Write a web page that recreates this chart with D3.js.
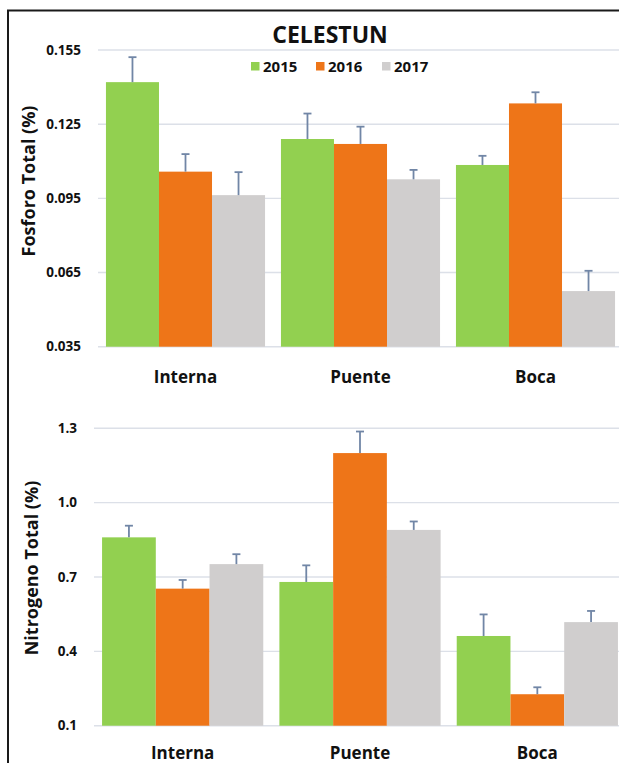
<!DOCTYPE html>
<html>
<head>
<meta charset="utf-8">
<script src="https://cdn.jsdelivr.net/npm/d3@7/dist/d3.min.js"></script>
<style>
  html, body { margin: 0; padding: 0; background: #fff; }
  svg { display: block; font-family: "Open Sans", "Noto Sans", sans-serif; }
</style>
</head>
<body>
<svg id="chart" width="619" height="763"></svg>
<script>
// Sampling sites and years
const sites = ["Interna", "Puente", "Boca"];
const years = ["2015", "2016", "2017"];
const yearColors = ["#92D050", "#EE7518", "#D0CECE"];

// Fosforo total (%) by year, one entry per site
const fosforo2015 = [0.142, 0.119, 0.1085];
const fosforo2016 = [0.1058, 0.117, 0.1334];
const fosforo2017 = [0.0963, 0.1027, 0.0575];
const fosforoErr2015 = [0.0101, 0.0103, 0.0037];
const fosforoErr2016 = [0.0071, 0.007, 0.0045];
const fosforoErr2017 = [0.0093, 0.0038, 0.0082];
const fosforoTicks = ["0.035", "0.065", "0.095", "0.125", "0.155"];

// Nitrogeno total (%) by year, one entry per site
const nitrogeno2015 = [0.86, 0.68, 0.462];
const nitrogeno2016 = [0.653, 1.2, 0.227];
const nitrogeno2017 = [0.752, 0.89, 0.518];
const nitrogenoErr2015 = [0.047, 0.067, 0.087];
const nitrogenoErr2016 = [0.035, 0.087, 0.028];
const nitrogenoErr2017 = [0.04, 0.034, 0.045];
const nitrogenoTicks = ["0.1", "0.4", "0.7", "1.0", "1.3"];

const svg = d3.select("#chart");

// Outer frame
svg.append("rect")
  .attr("x", 8).attr("y", 10.5)
  .attr("width", 640).attr("height", 780)
  .attr("fill", "none").attr("stroke", "#1a1a1a").attr("stroke-width", 2);

function drawPanel(opts) {
  const { values, errors, ticks, top, bottom, left, right, title, titlePos, labelY } = opts;
  const tickVals = ticks.map(Number);
  const y = d3.scaleLinear()
    .domain([tickVals[0], tickVals[tickVals.length - 1]])
    .range([bottom, top]);
  const x = d3.scaleBand().domain(sites).range([left, right]).paddingInner(0).paddingOuter(0);
  const gapRatio = 0.3;
  const barW = x.bandwidth() / (years.length + gapRatio);
  const groupOffset = (x.bandwidth() - barW * years.length) / 2;
  const xi = d3.scaleBand().domain(years).range([0, barW * years.length]);

  const g = svg.append("g");

  // Horizontal gridlines
  g.selectAll("line.grid").data(tickVals).join("line")
    .attr("class", "grid")
    .attr("x1", left).attr("x2", right)
    .attr("y1", d => y(d)).attr("y2", d => y(d))
    .attr("stroke", "#dce0e8").attr("stroke-width", 1.4);

  // Y axis tick labels
  g.selectAll("text.tick").data(ticks).join("text")
    .attr("class", "tick")
    .attr("x", left - 17)
    .attr("y", d => y(+d))
    .attr("dy", "0.35em")
    .attr("text-anchor", "end")
    .attr("font-size", 13.5).attr("font-weight", 700).attr("fill", "#111")
    .text(d => d);

  // Bars
  const rows = [];
  sites.forEach((s, i) => {
    years.forEach((yr, j) => {
      rows.push({ site: s, year: yr, j, v: values[j][i], e: errors[j][i] });
    });
  });
  const base = y.domain()[0];
  g.selectAll("rect.bar").data(rows).join("rect")
    .attr("class", "bar")
    .attr("x", d => x(d.site) + groupOffset + xi(d.year))
    .attr("width", barW)
    .attr("y", d => y(d.v))
    .attr("height", d => y(base) - y(d.v))
    .attr("fill", d => yearColors[d.j]);

  // Error bars (upper only)
  const eb = g.selectAll("g.err").data(rows).join("g").attr("class", "err")
    .attr("stroke", "#7186a6").attr("stroke-width", 1.8);
  eb.append("line")
    .attr("x1", d => x(d.site) + groupOffset + xi(d.year) + barW / 2)
    .attr("x2", d => x(d.site) + groupOffset + xi(d.year) + barW / 2)
    .attr("y1", d => y(d.v)).attr("y2", d => y(d.v + d.e));
  eb.append("line")
    .attr("x1", d => x(d.site) + groupOffset + xi(d.year) + barW / 2 - 4)
    .attr("x2", d => x(d.site) + groupOffset + xi(d.year) + barW / 2 + 4)
    .attr("y1", d => y(d.v + d.e)).attr("y2", d => y(d.v + d.e));

  // Category labels
  g.selectAll("text.cat").data(sites).join("text")
    .attr("class", "cat")
    .attr("x", d => x(d) + x.bandwidth() / 2)
    .attr("y", labelY)
    .attr("text-anchor", "middle")
    .attr("font-size", 17).attr("font-weight", 700).attr("fill", "#111")
    .text(d => d);

  // Axis title
  g.append("text")
    .attr("transform", `translate(${titlePos[0]},${titlePos[1]}) rotate(-90)`)
    .attr("text-anchor", "middle")
    .attr("dy", "0.35em")
    .attr("font-size", 18).attr("font-weight", 700).attr("fill", "#111")
    .text(title);
}

drawPanel({
  values: [fosforo2015, fosforo2016, fosforo2017],
  errors: [fosforoErr2015, fosforoErr2016, fosforoErr2017],
  ticks: fosforoTicks,
  top: 50, bottom: 346.7, left: 98, right: 623,
  title: "Fosforo Total (%)", titlePos: [29, 181], labelY: 383
});

drawPanel({
  values: [nitrogeno2015, nitrogeno2016, nitrogeno2017],
  errors: [nitrogenoErr2015, nitrogenoErr2016, nitrogenoErr2017],
  ticks: nitrogenoTicks,
  top: 428.3, bottom: 725.7, left: 94, right: 626,
  title: "Nitrogeno Total (%)", titlePos: [32, 568], labelY: 759
});

// Chart title
svg.append("text")
  .attr("x", 330).attr("y", 43)
  .attr("text-anchor", "middle")
  .attr("font-size", 23).attr("font-weight", 700).attr("fill", "#111")
  .text("CELESTUN");

// Legend
const legendX = [251, 316, 382];
const legend = svg.append("g");
years.forEach((yr, j) => {
  legend.append("rect")
    .attr("x", legendX[j]).attr("y", 62)
    .attr("width", 8.5).attr("height", 8.5)
    .attr("fill", yearColors[j]);
  legend.append("text")
    .attr("x", legendX[j] + 12).attr("y", 66.5)
    .attr("dy", "0.35em")
    .attr("font-size", 15).attr("font-weight", 700).attr("fill", "#111")
    .text(yr);
});
</script>
</body>
</html>
